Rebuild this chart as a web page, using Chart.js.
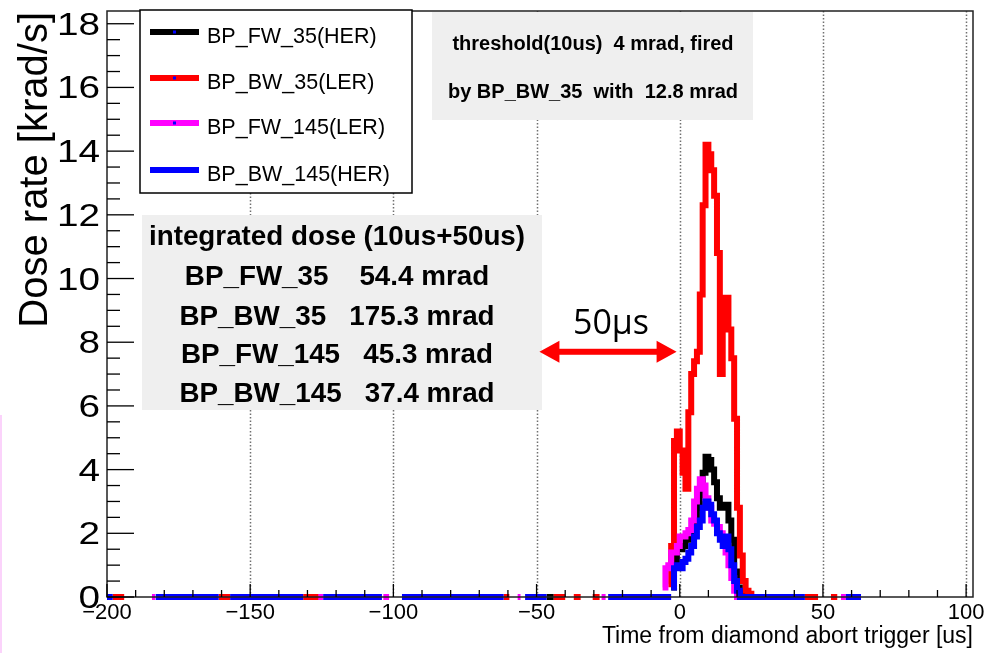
<!DOCTYPE html>
<html>
<head>
<meta charset="utf-8">
<script src="https://cdn.jsdelivr.net/npm/chart.js@4.4.1/dist/chart.umd.min.js"></script>
<style>
  html, body { margin: 0; padding: 0; background: #fff; }
  #wrap { width: 987px; height: 653px; position: relative; }
</style>
</head>
<body>
<div id="wrap"><canvas id="chart" width="987" height="653"></canvas></div>
<script>
const seriesNames = ["BP_FW_35(HER)", "BP_BW_35(LER)", "BP_FW_145(LER)", "BP_BW_145(HER)"];
const seriesColors = ["#000000", "#ff0000", "#ff00ff", "#0000ff"];

const xTickValues = [-200, -150, -100, -50, 0, 50, 100];
const yTickValues = [0, 2, 4, 6, 8, 10, 12, 14, 16, 18];

// dose rate [krad/s] in 1 us bins around the trigger, first bin starts at *Start
const fw35Start = -3;
const fw35Peak = [0.3, 1.0, 1.5, 1.5, 1.6, 1.8, 1.8, 1.9, 2.3, 2.8, 3.2, 3.9, 4.4, 4.3, 4.0, 3.6, 3.1, 2.8, 2.8, 2.9, 2.4, 1.8, 0.8, 0.3, 0.1, 0];
const bw35Start = -4;
const bw35Peak = [0.4, 1.6, 4.9, 5.2, 4.6, 3.9, 3.4, 5.8, 7.0, 7.4, 7.7, 9.5, 12.3, 14.2, 13.9, 13.4, 12.6, 10.8, 7.0, 8.8, 9.4, 8.4, 7.5, 5.6, 2.8, 1.3, 0.5, 0.2, 0.1, 0];
const fw145Start = -6;
const fw145Peak = [0.3, 0.9, 1.0, 1.4, 1.4, 1.6, 1.9, 1.9, 2.0, 2.1, 2.4, 3.0, 3.4, 3.7, 3.5, 3.1, 2.8, 2.4, 2.3, 2.2, 2.0, 1.8, 1.4, 1.0, 0.6, 0.2, 0];
const bw145Start = -3;
const bw145Peak = [0.3, 0.9, 1.0, 0.9, 1.1, 1.2, 1.4, 1.6, 1.9, 2.2, 2.4, 2.8, 3.0, 2.9, 2.6, 2.4, 2.0, 1.8, 1.6, 1.9, 1.5, 1.0, 0.5, 0.2, 0];

// time ranges [us] where each trace sits on zero
const fw35Zero = [[-46.5, -44]];
const bw35Zero = [[-198, -194], [-161, -157], [-131.5, -126], [-61.5, -59.5], [-44, -40], [-37, -34.6], [-30.4, -28], [43.7, 48.3], [52.8, 55]];
const fw145Zero = [[-184.3, -183.2], [-126.2, -124.5], [-103.5, -101.5], [-56.6, -55.6], [-27.3, -25.9], [56.3, 58]];
const bw145Zero = [[-200, -198], [-183, -161], [-157, -131.5], [-124.5, -104], [-97, -61.5], [-54, -46.5], [-25, -3], [21, 43.7], [58, 63.3]];

const thresholdLines = ["threshold(10us)  4 mrad, fired", "by BP_BW_35  with  12.8 mrad"];
const doseLines = ["integrated dose (10us+50us)", "BP_FW_35    54.4 mrad", "BP_BW_35   175.3 mrad", "BP_FW_145   45.3 mrad", "BP_BW_145   37.4 mrad"];
const gapLabel = "50\u03bcs";
const gapFrom = -49, gapTo = -1.1, gapAt = 7.7;

const FONT = '"Liberation Sans", Arial, Helvetica, sans-serif';

function histPoints(start, values, zeroRanges) {
  const segs = zeroRanges.map(([a, b]) => [{ x: a, y: 0 }, { x: b, y: 0 }]);
  const peak = values.map((v, i) => ({ x: start + i, y: v }));
  peak.push({ x: start + values.length, y: 0 });
  segs.push(peak);
  segs.sort((p, q) => p[0].x - q[0].x);
  const pts = [];
  segs.forEach(seg => {
    pts.push(...seg);
    pts.push({ x: seg[seg.length - 1].x, y: null });
  });
  return pts;
}

const dsHist = (i, data, order) => ({
  label: seriesNames[i],
  data,
  order,
  borderColor: seriesColors[i],
  backgroundColor: seriesColors[i],
  borderWidth: 6,
  borderCapStyle: 'butt',
  stepped: true,
  pointRadius: 0,
  fill: false,
  spanGaps: false,
  clip: false
});

function drawText(ctx, text, x, y, size, opts = {}) {
  ctx.save();
  ctx.font = `${opts.weight || 'normal'} ${size}px ${opts.family || FONT}`;
  ctx.fillStyle = opts.color || '#000';
  ctx.textAlign = opts.align || 'left';
  ctx.textBaseline = opts.baseline || 'alphabetic';
  ctx.translate(x, y);
  if (opts.rotate) ctx.rotate(opts.rotate);
  ctx.scale(opts.sx || 1, 1);
  ctx.fillText(text, 0, 0);
  ctx.restore();
}

const rootStyle = {
  id: 'rootStyle',
  beforeDatasetsDraw(chart) {
    const { ctx, chartArea: a, scales: { x } } = chart;
    ctx.save();
    ctx.strokeStyle = '#707070';
    ctx.lineWidth = 1.5;
    ctx.setLineDash([1.5, 2]);
    x.ticks.forEach(t => {
      if (t.value <= x.min) return;
      const px = Math.round(x.getPixelForValue(t.value)) + 0.5;
      ctx.beginPath();
      ctx.moveTo(px, a.top);
      ctx.lineTo(px, a.bottom);
      ctx.stroke();
    });
    ctx.restore();
  },
  afterDatasetsDraw(chart) {
    const { ctx, chartArea: a, scales: { x, y } } = chart;
    ctx.save();
    // frame
    ctx.strokeStyle = '#222';
    ctx.lineWidth = 1.5;
    ctx.strokeRect(a.left, a.top, a.right - a.left, a.bottom - a.top);

    // inward ticks, majors from the scale, minors subdivided
    ctx.strokeStyle = '#000';
    ctx.lineWidth = 1.3;
    const tick = (x0, y0, x1, y1) => { ctx.beginPath(); ctx.moveTo(x0, y0); ctx.lineTo(x1, y1); ctx.stroke(); };
    const xt = x.ticks.map(t => t.value);
    for (let i = 0; i < xt.length; i++) {
      const px = x.getPixelForValue(xt[i]);
      tick(px, a.bottom, px, a.bottom - 13);
      if (i < xt.length - 1) {
        const step = (xt[i + 1] - xt[i]) / 5;
        for (let k = 1; k < 5; k++) {
          const pm = x.getPixelForValue(xt[i] + k * step);
          tick(pm, a.bottom, pm, a.bottom - 7);
        }
      }
    }
    const yt = y.ticks.map(t => t.value);
    for (let i = 0; i < yt.length; i++) {
      const py = y.getPixelForValue(yt[i]);
      tick(a.left, py, a.left + 27, py);
      const step = 0.5;
      for (let k = 1; k < 4; k++) {
        const v = yt[i] + k * step;
        if (v > y.max) break;
        const pm = y.getPixelForValue(v);
        tick(a.left, pm, a.left + 13, pm);
      }
    }
    ctx.restore();

    // tick labels
    yt.forEach(v => {
      drawText(ctx, String(v), a.left - 7, y.getPixelForValue(v) + 11, 31, { align: 'right', sx: 1.25 });
    });
    xt.forEach(v => {
      const label = v < 0 ? '\u2212' + Math.abs(v) : String(v);
      drawText(ctx, label, x.getPixelForValue(v), a.bottom + 22, 22, { align: 'center' });
    });

    // axis titles (ROOT style, aligned to the end of the axis)
    drawText(ctx, 'Time from diamond abort trigger [us]', a.right, 643, 23, { align: 'right' });
    drawText(ctx, 'Dose rate [krad/s]', 47, a.top + 1, 40, { align: 'right', rotate: -Math.PI / 2 });

    // legend
    ctx.save();
    ctx.fillStyle = '#fff';
    ctx.fillRect(140, 10, 272, 183);
    ctx.strokeStyle = '#000';
    ctx.lineWidth = 1.5;
    ctx.strokeRect(140, 10, 272, 183);
    const rows = [32, 78, 123, 170];
    seriesNames.forEach((name, i) => {
      ctx.fillStyle = seriesColors[i];
      ctx.fillRect(150, rows[i] - 3, 49, 6);
      if (i < 3) { ctx.fillStyle = '#0000ff'; ctx.fillRect(173, rows[i] - 1.5, 3, 3); }
      drawText(ctx, name, 207, rows[i] + 11, 21.5);
    });
    ctx.restore();

    // threshold note
    ctx.save();
    ctx.fillStyle = '#efefef';
    ctx.fillRect(432, a.top + 1, 321, 108);
    ctx.restore();
    drawText(ctx, thresholdLines[0], 593, 50, 20, { weight: 'bold', align: 'center' });
    drawText(ctx, thresholdLines[1], 593, 98, 20, { weight: 'bold', align: 'center' });

    // integrated dose box
    ctx.save();
    ctx.fillStyle = '#efefef';
    ctx.fillRect(142, 215, 400, 195);
    ctx.restore();
    const baselines = [245, 285, 325, 363, 402];
    doseLines.forEach((line, i) => {
      drawText(ctx, line, 337, baselines[i], 27.8, { weight: 'bold', align: 'center' });
    });

    // 50 us arrow
    const x0 = x.getPixelForValue(gapFrom), x1 = x.getPixelForValue(gapTo), py = y.getPixelForValue(gapAt);
    ctx.save();
    ctx.fillStyle = '#ff0000';
    ctx.fillRect(x0 + 14, py - 3, x1 - x0 - 28, 6);
    ctx.beginPath();
    ctx.moveTo(x0, py); ctx.lineTo(x0 + 20, py - 11); ctx.lineTo(x0 + 20, py + 11); ctx.closePath();
    ctx.moveTo(x1, py); ctx.lineTo(x1 - 20, py - 11); ctx.lineTo(x1 - 20, py + 11); ctx.closePath();
    ctx.fill();
    ctx.restore();
    drawText(ctx, gapLabel, (x0 + x1) / 2 + 3, py - 18, 34, { align: 'center', family: '"Open Sans", "Noto Sans", sans-serif' });

    // faint pink edge from the original slide
    ctx.save();
    ctx.fillStyle = '#fbd3fb';
    ctx.fillRect(0, 415, 2, 238);
    ctx.restore();
  }
};

const datasets = [
  dsHist(0, histPoints(fw35Start, fw35Peak, fw35Zero), 4),
  dsHist(1, histPoints(bw35Start, bw35Peak, bw35Zero), 3),
  dsHist(2, histPoints(fw145Start, fw145Peak, fw145Zero), 2),
  dsHist(3, histPoints(bw145Start, bw145Peak, bw145Zero), 1)
];

new Chart(document.getElementById('chart').getContext('2d'), {
  type: 'line',
  data: { datasets },
  options: {
    responsive: false,
    animation: false,
    layout: { padding: { top: 11, right: 14, left: 0, bottom: 0 } },
    plugins: { legend: { display: false }, tooltip: { enabled: false } },
    scales: {
      x: {
        type: 'linear',
        min: -200,
        max: 102.4,
        ticks: { display: false },
        grid: { display: false, drawTicks: false },
        border: { display: false },
        afterBuildTicks: s => { s.ticks = xTickValues.map(v => ({ value: v })); },
        afterFit: s => { s.height = 56; }
      },
      y: {
        type: 'linear',
        min: 0,
        max: 18.4,
        ticks: { display: false },
        grid: { display: false, drawTicks: false },
        border: { display: false },
        afterBuildTicks: s => { s.ticks = yTickValues.map(v => ({ value: v })); },
        afterFit: s => { s.width = 107; }
      }
    }
  },
  plugins: [rootStyle]
});
</script>
</body>
</html>
